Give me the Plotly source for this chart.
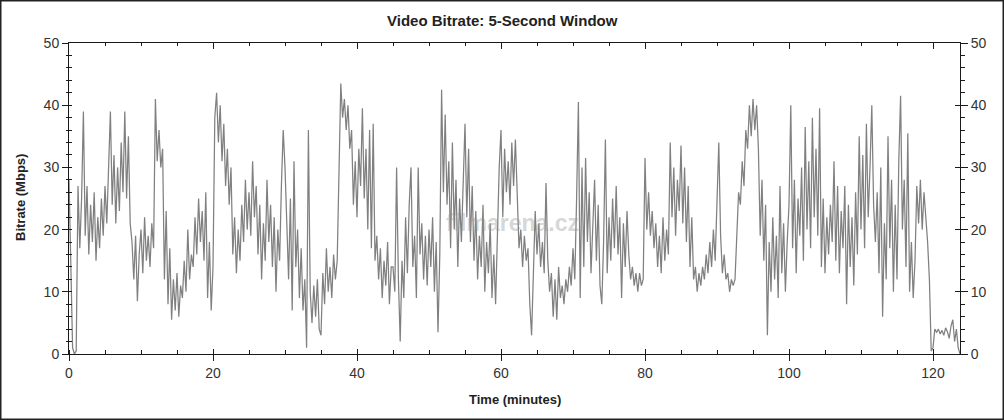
import plotly.graph_objects as go

# Time step between samples (minutes)
step_min = 0.25

# Bitrate (Mbps), one value per 0.25 min, 20 values per 5-minute row
bitrate_mbps = [
    28, 12, 1, 0, 0.5, 27, 17, 25, 39, 19, 27, 16, 24, 18, 26, 15, 22, 17, 25, 19,          # 0-5
    27, 21, 31, 39, 24, 32, 21, 30, 23, 34, 26, 39, 25, 35, 21, 18, 12, 19, 8.5, 16,         # 5-10
    20, 13, 22, 15, 19, 14, 21, 17, 41, 31, 36, 30, 33, 12, 23, 8, 17, 5.5, 12, 7,          # 10-15
    13, 6, 11, 9, 15, 10, 20, 12, 16, 14, 22, 16, 25, 18, 23, 15, 26, 9, 18, 7,              # 15-20
    14, 38, 42, 34, 40, 31, 37, 27, 33, 24, 30, 16, 22, 13, 20, 15, 24, 18, 28, 20,          # 20-25
    26, 19, 31, 22, 27, 16, 24, 12, 21, 15, 28, 18, 24, 14, 22, 10, 20, 15, 27, 36,          # 25-30
    30, 20, 12, 25, 7, 31, 14, 20, 9, 17, 7, 12, 1, 36, 10, 5, 11, 6, 12, 4,                 # 30-35
    3, 13, 8, 17, 10, 14, 9, 16, 12, 15, 28, 43.5, 38, 41, 36, 40, 33, 36, 24, 31,           # 35-40
    22, 33, 27, 39.5, 25, 33, 20, 36, 17, 37, 15, 19, 12, 17, 9, 15, 11, 18, 8, 14,          # 40-45
    14, 10, 30, 12, 2, 15, 9, 22, 13, 24, 30, 14, 19, 9, 30, 16, 21, 12, 19, 11,             # 45-50
    20, 14, 22, 10, 18, 3.5, 16, 42.5, 26, 38.5, 24, 31, 17, 34, 20, 28, 14, 25, 18, 29,     # 50-55
    37, 22, 33, 18, 27, 15, 23, 12, 19, 14, 24, 10, 18, 13, 21, 9, 16, 8, 19, 30,            # 55-60
    36, 22, 33, 26, 31, 24, 34, 27, 34.5, 24, 17, 20, 14, 19, 15, 17, 8, 3, 12, 23,          # 60-65
    16, 21, 14, 18, 13, 27.5, 15, 10, 13, 6, 12, 5.5, 14, 9, 11, 8, 12, 10, 14, 11,          # 65-70
    17, 12, 25, 40.5, 9, 30, 14, 31.5, 18, 26, 13, 22, 28, 15, 24, 11, 8, 18, 34.5, 13,      # 70-75
    22, 15, 25, 17, 27, 16, 22, 9, 21, 14, 23, 16, 12, 14, 11, 13, 10, 13, 11, 12,           # 75-80
    31.5, 20, 26, 19, 23, 17, 21, 14, 19, 13, 22, 15, 20, 16, 34, 22, 30, 19, 28, 23,        # 80-85
    33.5, 21, 30, 18, 27, 14, 22, 12, 14, 10, 13, 11, 14, 12, 16, 13, 18, 14, 20, 15,        # 85-90
    24, 34, 19, 13, 16, 12, 13, 10, 12, 11, 12, 18, 26, 24, 31, 27, 36, 33, 40, 35,          # 90-95
    41, 36, 40, 33, 19, 28, 15, 24, 3, 18, 10, 22, 12, 19, 9, 27, 13, 21, 10, 18,            # 95-100
    24, 40, 17, 28, 13, 25, 19, 30, 15, 36.5, 20, 31, 17, 38, 22, 33, 19, 39.5, 14, 25,      # 100-105
    13, 22, 16, 24, 18, 31, 15, 27, 13, 23, 17, 27, 8, 24, 14, 22, 11, 26, 16, 35,           # 105-110
    20, 32, 17, 37, 22, 30, 40, 24, 18, 26, 13, 30, 6, 21, 12, 35, 17, 28, 10, 24,           # 110-115
    12, 31, 41.5, 20, 28, 14, 35.5, 10, 18, 9, 15, 27, 21, 28, 20, 26, 22, 18, 12, 0.5,      # 115-120
    1, 4, 3.5, 4, 3.2, 3.8, 3, 4.2, 3.6, 2.5, 4.5, 5.5, 2, 4, 1, 0,                          # 120-124
]
time_min = [i * step_min for i in range(len(bitrate_mbps))]

x_range = [0, 123.75]
y_range = [0, 50]
x_ticks = [0, 20, 40, 60, 80, 100, 120]
y_ticks = [0, 10, 20, 30, 40, 50]

title_text = "Video Bitrate: 5-Second Window"
x_title = "Time (minutes)"
y_title = "Bitrate (Mbps)"
watermark = "filmarena.cz"

FONT = "Liberation Sans, Arial, sans-serif"
AX = "#1a1a1a"

fig = go.Figure()
fig.add_trace(go.Scatter(
    x=time_min, y=bitrate_mbps, mode="lines",
    line=dict(color="#808080", width=1.25),
    hoverinfo="skip", showlegend=False,
))

W, H = 1004, 420
L, R, T, B = 69, 44, 43, 66
pw, ph = W - L - R, H - T - B

common = dict(showgrid=False, zeroline=False, linecolor=AX, tickcolor=AX, linewidth=1)

fig.update_layout(
    width=W, height=H,
    margin=dict(l=L, r=R, t=T, b=B, pad=0, autoexpand=False),
    paper_bgcolor="white", plot_bgcolor="white",
    font=dict(family=FONT, size=14, color="#222"),
    xaxis=dict(range=x_range, tickvals=x_ticks, ticks="outside", ticklen=6, showline=True,
               tickfont=dict(size=14, color="#333"),
               minor=dict(dtick=5, tick0=0, ticks="inside", ticklen=4, tickcolor=AX),
               **common),
    xaxis2=dict(range=x_range, overlaying="x", side="top", tickvals=x_ticks, ticks="inside",
                ticklen=6, showline=True, showticklabels=False,
                minor=dict(dtick=5, tick0=0, ticks="inside", ticklen=3, tickcolor=AX),
                **common),
    xaxis3=dict(range=x_range, overlaying="x", side="bottom", tickvals=x_ticks, ticks="inside",
                ticklen=5, showline=False, showticklabels=False, **common),
    yaxis=dict(range=y_range, tickvals=y_ticks, ticks="outside", ticklen=6, showline=True,
               tickfont=dict(size=14, color="#333"),
               minor=dict(dtick=2, tick0=0, ticks="outside", ticklen=2, tickcolor=AX),
               **common),
    yaxis2=dict(range=y_range, overlaying="y", side="right", tickvals=y_ticks, ticks="outside",
                ticklen=7, showline=True, tickfont=dict(size=14, color="#333"),
                minor=dict(dtick=2, tick0=0, ticks="outside", ticklen=4, tickcolor=AX),
                **common),
    yaxis3=dict(range=y_range, overlaying="y", side="left", dtick=2, tick0=0, ticks="inside",
                ticklen=3, showline=False, showticklabels=False, **common),
    yaxis4=dict(range=y_range, overlaying="y", side="right", tickvals=y_ticks, ticks="inside",
                ticklen=5, showline=False, showticklabels=False, **common),
)

# invisible placeholder traces that activate the overlay axes
for xa, ya in [("x2", "y2"), ("x3", "y3"), ("x", "y4")]:
    fig.add_trace(go.Scatter(x=[None], y=[None], xaxis=xa, yaxis=ya, showlegend=False,
                             hoverinfo="skip"))

def px_x(p):
    return (p - L) / pw

def px_y(p):
    return (H - B - p) / ph

annotations = [
    dict(text=f"<b>{title_text}</b>", x=px_x(502), y=px_y(20), xref="paper", yref="paper",
         showarrow=False, font=dict(size=15, color="#222", family=FONT), xanchor="center", yanchor="middle"),
    dict(text=f"<b>{x_title}</b>", x=px_x(515), y=px_y(399), xref="paper", yref="paper",
         showarrow=False, font=dict(size=13, color="#222", family=FONT), xanchor="center", yanchor="middle"),
    dict(text=f"<b>{y_title}</b>", x=px_x(20), y=px_y(198), xref="paper", yref="paper", textangle=-90,
         showarrow=False, font=dict(size=13, color="#222", family=FONT), xanchor="center", yanchor="middle"),
    dict(text=f"<b>{watermark}</b>", x=px_x(512), y=px_y(223), xref="paper", yref="paper",
         showarrow=False, font=dict(size=23, color="rgba(150,150,150,0.40)", family=FONT),
         xanchor="center", yanchor="middle"),
]
fig.update_layout(annotations=annotations)

fig.add_shape(type="rect", xref="paper", yref="paper",
              x0=px_x(0.75), x1=px_x(1003.25), y0=px_y(419.25), y1=px_y(0.75),
              line=dict(color="#222", width=1.5), fillcolor="rgba(0,0,0,0)", layer="above")

fig.write_html(
    "out.html",
    config={"displayModeBar": False},
    post_script="document.body.style.margin='0';document.body.style.overflow='hidden';",
)
